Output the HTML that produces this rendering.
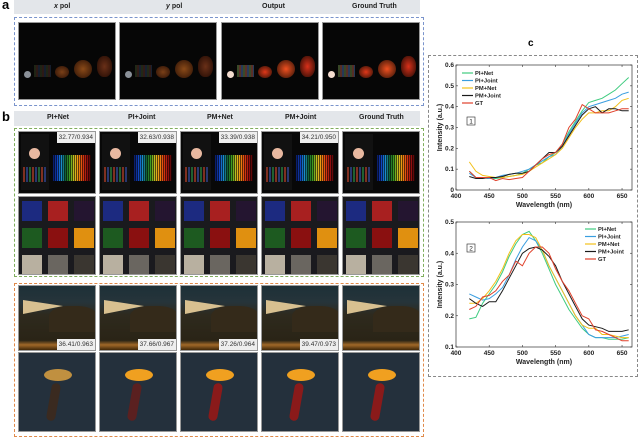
<!DOCTYPE html>
<html><head><meta charset="utf-8"><style>
body{margin:0;background:#fff;width:640px;height:433px;overflow:hidden;position:relative;font-family:"Liberation Sans",sans-serif}
.abs{position:absolute}
.hdr{position:absolute;background:#e3e6ea;font-size:7px;font-weight:bold;color:#222;text-align:center;line-height:14px}
.hdr span{position:absolute;top:0}
.img{position:absolute;background:#050505;overflow:hidden;border:1px solid #999;box-sizing:border-box}
.lbl{position:absolute;font-size:13px;font-weight:bold;color:#000}
.metric{position:absolute;right:0;background:#eee;color:#333;font-size:6.5px;padding:0 2px;line-height:11px}
.dash{position:absolute;border:1.5px dashed}
</style></head><body>
<div class="lbl" style="left:2px;top:-3px">a</div>
<div class="hdr" style="left:14px;top:0;width:406px;height:14px">
<span style="left:40px"><i>x</i> pol</span><span style="left:152px"><i>y</i> pol</span><span style="left:248px">Output</span><span style="left:338px">Ground Truth</span></div>
<div class="dash" style="left:14px;top:17px;width:408px;height:87px;border-color:#7a94cc"></div>
<div id="pa"></div>
<div class="lbl" style="left:2px;top:109px">b</div>
<div class="hdr" style="left:14px;top:111px;width:406px;height:15px">
<span style="left:33px">PI+Net</span><span style="left:114px">PI+Joint</span><span style="left:193px">PM+Net</span><span style="left:271px">PM+Joint</span><span style="left:345px">Ground Truth</span></div>
<div class="dash" style="left:14px;top:128px;width:408px;height:147px;border-color:#7fae5c"></div>
<div class="dash" style="left:14px;top:283px;width:408px;height:152px;border-color:#e08a4a"></div>
<div id="pb"></div>
<div class="lbl" style="left:528px;top:38px;font-size:10px">c</div>
<div class="dash" style="left:428px;top:55px;width:208px;height:320px;border-color:#888"></div>
<svg id="ch" class="abs" style="left:0;top:0" width="640" height="433"></svg>
<script>
// ---------- image panels ----------
const pa=document.getElementById('pa');
const aX=[18,119,221,322];
const aBright=[0.45,0.5,1,0.95];
aX.forEach((x,i)=>{
 const d=document.createElement('div');
 d.className='img';
 
 
 d.style.cssText=`left:${x}px;top:22px;width:98px;height:78px;background:#060606`;
 const b=aBright[i];
 const col=b>0.8?'#e0381a':'#7a4018';
 d.innerHTML=`<div class="abs" style="left:5px;top:48px;width:7px;height:7px;border-radius:50%;background:${b>0.8?'#f4ddd0':'#8a9098'}"></div>
 <div class="abs" style="left:15px;top:42px;width:17px;height:12px;background:repeating-linear-gradient(90deg,#3a4a28 0 2px,#5a3028 2px 4px,#283a5a 4px 6px);opacity:${b}"></div>
 <div class="abs" style="left:36px;top:43px;width:14px;height:12px;border-radius:50%;background:radial-gradient(${col},#2a1005)"></div>
 <div class="abs" style="left:55px;top:37px;width:18px;height:18px;border-radius:50%;background:radial-gradient(${b>0.8?'#f05020':'#8a4a18'},#2a1005)"></div>
 <div class="abs" style="left:78px;top:33px;width:15px;height:21px;border-radius:45%;background:radial-gradient(${b>0.8?'#d8301a':'#6a3018'},#200a03)"></div>`;
 pa.appendChild(d);
});
const pb=document.getElementById('pb');
const bX=[18,99,180,261,342];
const metrics1=['32.77/0.934','32.63/0.938','33.39/0.938','34.21/0.950',''];
const metrics3=['36.41/0.963','37.66/0.967','37.26/0.964','39.47/0.973',''];
const rainbow='linear-gradient(90deg,#0a1a60,#1040c0,#1890d0,#106030,#40a020,#d0c020,#f09010,#e04010,#a01010,#400505)';
bX.forEach((x,i)=>{
 const r1=document.createElement('div');
 r1.className='img';
 
 
 r1.style.cssText=`left:${x}px;top:131px;width:78px;height:63px;background:#080808`;
 r1.innerHTML=`<div class="abs" style="left:2px;top:2px;width:28px;height:56px;background:#111"></div>
 <div class="abs" style="left:10px;top:16px;width:11px;height:11px;border-radius:50%;background:#e8b8a0"></div>
 <div class="abs" style="left:4px;top:35px;width:24px;height:15px;background:repeating-linear-gradient(90deg,#803020 0 2px,#111 2px 3px,#283870 3px 5px,#111 5px 6px,#206030 6px 8px,#111 8px 9px)"></div>
 <div class="abs" style="left:34px;top:23px;width:38px;height:26px;background:repeating-linear-gradient(90deg,transparent 0 1px,rgba(0,0,0,.6) 1px 2px),${rainbow}"></div>`
 +(metrics1[i]?`<div class="metric" style="top:0">${metrics1[i]}</div>`:'');
 pb.appendChild(r1);
 const r2=document.createElement('div');
 r2.className='img';
 
 
 r2.style.cssText=`left:${x}px;top:196px;width:78px;height:79px;background:#1a1a1e`;
 const cols=['#1c2a80','#a82020','#241530','#1d5a20','#8a1010','#e09010','#b8b0a0','#6a6660','#3a3630'];
 let h='';
 cols.forEach((c,k)=>{h+=`<div class="abs" style="left:${3+(k%3)*26}px;top:${4+Math.floor(k/3)*27}px;width:20px;height:20px;background:${c}"></div>`;});
 r2.innerHTML=h;
 pb.appendChild(r2);
 const r3=document.createElement('div');
 r3.className='img';
 
 
 r3.style.cssText=`left:${x}px;top:285px;width:78px;height:66px;background:linear-gradient(#1d3038 0%,#26343a 25%,#2e2a1e 45%,#2a2416 85%,#a06828 92%,#402808 100%)`;
 r3.innerHTML=`<div class="abs" style="left:4px;top:14px;width:0;height:0;border-top:6px solid transparent;border-bottom:8px solid transparent;border-right:40px solid #d8c090;transform:scaleX(-1)"></div>
 <div class="abs" style="left:30px;top:20px;width:48px;height:26px;border-radius:40% 40% 0 0;background:#342a1a"></div>`
 +(metrics3[i]?`<div class="metric" style="bottom:0">${metrics3[i]}</div>`:'');
 pb.appendChild(r3);
 const r4=document.createElement('div');
 r4.className='img';
 
 
 r4.style.cssText=`left:${x}px;top:352px;width:78px;height:80px;background:#24303c`;
 const stem=i===0?'#3a2a20':(i===1?'#5a2020':'#8a1a1a');
 r4.innerHTML=`<div class="abs" style="left:30px;top:30px;width:9px;height:38px;border-radius:5px;background:${stem};transform:rotate(10deg)"></div>
 <div class="abs" style="left:25px;top:16px;width:28px;height:12px;border-radius:50%;background:${i===0?'#c09040':'#f0a020'}"></div>`;
 pb.appendChild(r4);
});

// ---------- chart data ----------
const wavelengths=[420,430,440,450,460,470,480,490,500,510,520,530,540,550,560,570,580,590,600,610,620,630,640,650,660];
const seriesNames=['PI+Net','PI+Joint','PM+Net','PM+Joint','GT'];
const seriesColors=['#3ecb7f','#3a9ee0','#f2c01a','#1a1a1a','#e0402a'];
const s1PINet=[0.09,0.06,0.06,0.055,0.055,0.06,0.065,0.07,0.08,0.1,0.12,0.13,0.16,0.18,0.22,0.28,0.33,0.38,0.42,0.43,0.44,0.46,0.48,0.51,0.54];
const s1PIJoint=[0.08,0.06,0.06,0.055,0.06,0.07,0.075,0.08,0.09,0.1,0.12,0.14,0.16,0.17,0.21,0.27,0.32,0.37,0.40,0.41,0.42,0.43,0.44,0.46,0.47];
const s1PMNet=[0.135,0.09,0.07,0.065,0.06,0.06,0.065,0.07,0.075,0.09,0.11,0.13,0.15,0.17,0.20,0.25,0.30,0.34,0.37,0.37,0.38,0.38,0.40,0.43,0.44];
const s1PMJoint=[0.065,0.055,0.055,0.06,0.06,0.065,0.075,0.08,0.08,0.09,0.12,0.15,0.18,0.18,0.21,0.26,0.31,0.36,0.39,0.40,0.37,0.39,0.39,0.38,0.38];
const s1GT=[0.09,0.06,0.06,0.06,0.045,0.055,0.05,0.055,0.06,0.09,0.12,0.15,0.17,0.18,0.22,0.30,0.34,0.41,0.39,0.37,0.37,0.37,0.38,0.39,0.39];
const s2PINet=[0.19,0.195,0.24,0.27,0.30,0.34,0.39,0.43,0.46,0.47,0.44,0.40,0.35,0.30,0.26,0.22,0.19,0.16,0.14,0.13,0.13,0.125,0.125,0.125,0.13];
const s2PIJoint=[0.27,0.26,0.25,0.255,0.27,0.29,0.33,0.38,0.42,0.45,0.44,0.41,0.36,0.32,0.28,0.24,0.20,0.17,0.14,0.13,0.13,0.13,0.13,0.135,0.14];
const s2PMNet=[0.24,0.24,0.255,0.28,0.31,0.35,0.40,0.44,0.46,0.46,0.45,0.41,0.36,0.32,0.28,0.24,0.20,0.17,0.16,0.16,0.14,0.14,0.135,0.13,0.13];
const s2PMJoint=[0.255,0.24,0.23,0.245,0.245,0.28,0.32,0.36,0.40,0.415,0.42,0.41,0.39,0.36,0.31,0.27,0.23,0.19,0.17,0.165,0.16,0.15,0.15,0.15,0.155];
const s2GT=[0.22,0.23,0.26,0.265,0.28,0.31,0.33,0.375,0.36,0.40,0.42,0.42,0.40,0.35,0.31,0.28,0.24,0.20,0.19,0.155,0.15,0.14,0.13,0.12,0.12];
const xTicks=[400,450,500,550,600,650];
const y1Ticks=[0,0.1,0.2,0.3,0.4,0.5,0.6];
const y2Ticks=[0.1,0.2,0.3,0.4,0.5];

const NS='http://www.w3.org/2000/svg';
const svg=document.getElementById('ch');
function el(tag,attrs,parent){const e=document.createElementNS(NS,tag);for(const k in attrs)e.setAttribute(k,attrs[k]);(parent||svg).appendChild(e);return e;}
function drawChart(cfg){
 const L=456,R=632,T=cfg.top,B=cfg.bottom,xmin=400,xmax=665;
 const sx=v=>L+(v-xmin)/(xmax-xmin)*(R-L);
 const sy=v=>B-(v-cfg.ymin)/(cfg.ymax-cfg.ymin)*(B-T);
 const g=el('g',{});
 
 
 const box=el('rect',{x:L,y:T,width:R-L,height:B-T,fill:'#fff',stroke:'#333','stroke-width':0.7},g);
 
 
 xTicks.forEach(t=>{
  el('line',{x1:sx(t),x2:sx(t),y1:B,y2:B-2,stroke:'#333','stroke-width':0.6},g);
  el('line',{x1:sx(t),x2:sx(t),y1:T,y2:T+2,stroke:'#333','stroke-width':0.6},g);
  const tx=el('text',{x:sx(t),y:B+8,'font-size':6.5,'text-anchor':'middle',fill:'#222','font-weight':'bold'},g);
  tx.textContent=t;
  
  
 });
 cfg.yTicks.forEach(t=>{
  el('line',{x1:L,x2:L+2,y1:sy(t),y2:sy(t),stroke:'#333','stroke-width':0.6},g);
  el('line',{x1:R,x2:R-2,y1:sy(t),y2:sy(t),stroke:'#333','stroke-width':0.6},g);
  const ty=el('text',{x:L-2,y:sy(t)+2,'font-size':6.5,'text-anchor':'end',fill:'#222','font-weight':'bold'},g);
  ty.textContent=t;
  
  
 });
 const xl=el('text',{x:(L+R)/2,y:B+17,'font-size':7,'text-anchor':'middle','font-weight':'bold',fill:'#222'},g);
 xl.textContent='Wavelength (nm)';
 
 
 const yl=el('text',{x:0,y:0,'font-size':7,'text-anchor':'middle','font-weight':'bold',fill:'#222',transform:`translate(442,${(T+B)/2}) rotate(-90)`},g);
 yl.textContent='Intensity (a.u.)';
 
 
 cfg.series.forEach((s,i)=>{
  const p=el('polyline',{points:s.map((v,k)=>sx(wavelengths[k]).toFixed(1)+','+sy(v).toFixed(1)).join(' '),fill:'none',stroke:seriesColors[i],'stroke-width':1},g);
  
  
 });
 seriesNames.forEach((n,i)=>{
  const y=cfg.legY+i*7.5;
  el('line',{x1:cfg.legX,x2:cfg.legX+11,y1:y,y2:y,stroke:seriesColors[i],'stroke-width':1.2},g);
  const t=el('text',{x:cfg.legX+13,y:y+2,'font-size':5.8,'font-weight':'bold',fill:'#222'},g);
  t.textContent=n;
  
  
 });
 el('rect',{x:467,y:cfg.boxY,width:8,height:8,fill:'#fff',stroke:'#222','stroke-width':0.6},g);
 const bt=el('text',{x:471,y:cfg.boxY+6.5,'font-size':6.5,'text-anchor':'middle',fill:'#222'},g);
 bt.textContent=cfg.boxLabel;
 
 
}
drawChart({name:'spectrum-chart-1',top:65,bottom:190,ymin:0,ymax:0.6,yTicks:y1Ticks,series:[s1PINet,s1PIJoint,s1PMNet,s1PMJoint,s1GT],legX:462,legY:73,boxY:117,boxLabel:'1'});
drawChart({name:'spectrum-chart-2',top:222,bottom:347,ymin:0.1,ymax:0.5,yTicks:y2Ticks,series:[s2PINet,s2PIJoint,s2PMNet,s2PMJoint,s2GT],legX:585,legY:229,boxY:244,boxLabel:'2'});
</script>
</body></html>
